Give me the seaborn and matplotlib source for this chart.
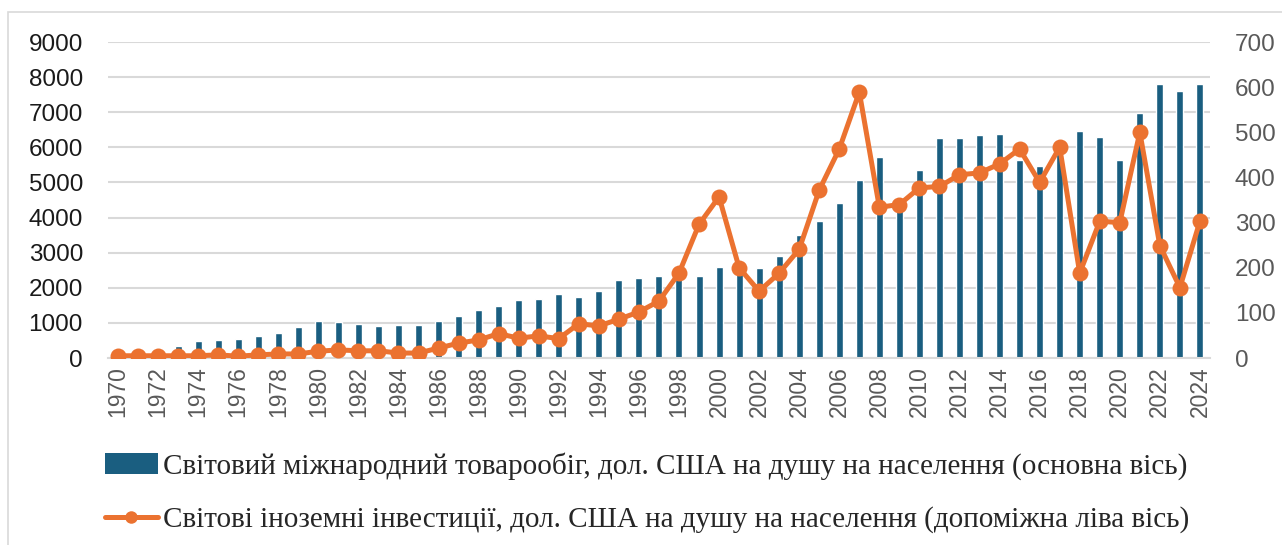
import numpy as np
import pandas as pd
import seaborn as sns
import matplotlib.pyplot as plt
from matplotlib.patches import Patch, Rectangle
from matplotlib.lines import Line2D

years = list(range(1970, 2025))

# world trade turnover per capita, USD (left axis)
trade = [180, 200, 240, 350, 480, 500, 550, 620, 720, 880,
         1050, 1030, 960, 920, 950, 950, 1050, 1210, 1380, 1475,
         1650, 1670, 1830, 1745, 1915, 2235, 2290, 2340, 2250, 2350,
         2580, 2500, 2550, 2910, 3495, 3910, 4420, 5065, 5730, 4400,
         5350, 6260, 6260, 6355, 6385, 5635, 5465, 5800, 6465, 6305,
         5635, 6980, 7800, 7615, 7800]

# world foreign investment per capita, USD (right axis)
invest = [5, 5, 5, 5, 5, 7, 4, 7, 9, 9,
          15, 18, 16, 16, 11, 11, 22, 33, 40, 54,
          44, 49, 43, 76, 71, 86, 102, 126, 188, 296,
          357, 200, 148, 188, 241, 372, 463, 589, 334, 340,
          377, 380, 406, 410, 430, 463, 389, 467, 188, 303,
          300, 500, 249, 156, 303]

label_trade = "Світовий міжнародний товарообіг, дол. США на душу на населення (основна вісь)"
label_inv = "Світові іноземні інвестиції, дол. США на душу на населення (допоміжна ліва вісь)"

bar_color = "#1A5E80"
line_color = "#EB7230"

df = pd.DataFrame({"year": [str(y) for y in years], "trade": trade, "invest": invest})
df["pos"] = np.arange(len(df))

sns.set_style("white")
plt.rcParams['font.family'] = ['Liberation Sans', 'DejaVu Sans']

fig = plt.figure(figsize=(12.82, 5.45), dpi=100)
ax = fig.add_axes([0.0842, 0.3431, 0.8596, 0.5798])

sns.barplot(data=df, x="year", y="trade", color=bar_color, width=0.35,
            saturation=1, ax=ax, zorder=2)
ax.set_ylim(0, 9000)
ax.set_yticks(range(0, 9001, 1000))
ax.set_xlim(-0.5, len(years) - 0.5)
ax.yaxis.grid(True, color="#D9D9D9", linewidth=1.5, zorder=0)
ax.set_axisbelow(True)
ax.set_xlabel("")
ax.set_ylabel("")
ax.set_xticks(df["pos"][::2])
ax.set_xticklabels(df["year"][::2], rotation=90)
ax.tick_params(axis="x", length=0, labelsize=16.5, labelcolor="#595959", pad=6)
ax.tick_params(axis="y", length=0, labelsize=17.5, labelcolor="#1A1A1A", pad=18)
for s in ["top", "right", "left"]:
    ax.spines[s].set_visible(False)
ax.spines["bottom"].set_color("#D9D9D9")
ax.spines["bottom"].set_linewidth(1.5)

ax2 = ax.twinx()
sns.lineplot(data=df, x="pos", y="invest", ax=ax2, color=line_color,
             linewidth=3.6, marker="o", markersize=11.5, markeredgewidth=0)
ax2.set_ylim(0, 700)
ax2.set_yticks(range(0, 701, 100))
ax2.set_xlim(-0.5, len(years) - 0.5)
ax2.set_ylabel("")
ax2.tick_params(axis="y", length=0, labelsize=17.5, labelcolor="#595959", pad=18)
for s in ax2.spines.values():
    s.set_visible(False)

handles = [Patch(facecolor=bar_color, edgecolor="none"),
           Line2D([0], [0], color=line_color, linewidth=3.6, marker="o",
                  markersize=9, markeredgewidth=0)]
fig.legend(handles, [label_trade, label_inv], loc="upper left",
           bbox_to_anchor=(0.082, 0.17), frameon=False, ncol=1,
           prop={"family": "Liberation Serif", "size": 21},
           handlelength=1.8, handletextpad=0.17, labelspacing=0.9,
           borderaxespad=0, borderpad=0)

fig.patches.append(Rectangle((8 / 1282, -0.1), 1.2, (545 - 12) / 545 + 0.1,
                             transform=fig.transFigure, fill=False,
                             edgecolor="#D9D9D9", linewidth=1.2))

fig.savefig("out.png", dpi=100)
